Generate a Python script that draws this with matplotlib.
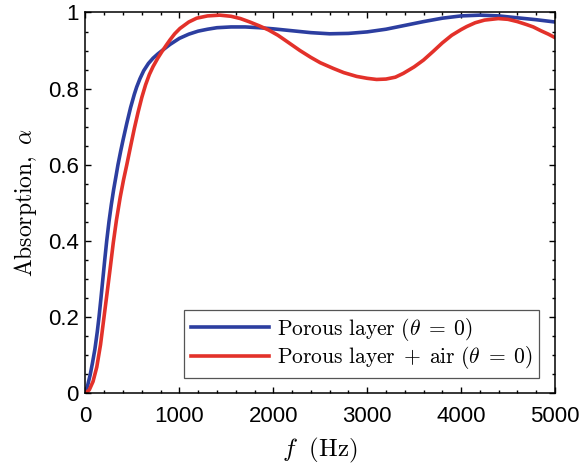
import matplotlib
matplotlib.use('Agg')
import matplotlib.pyplot as plt
from matplotlib.ticker import MultipleLocator

plt.rcParams['mathtext.fontset'] = 'cm'
plt.rcParams['font.family'] = ['Liberation Sans', 'DejaVu Sans']

# absorption coefficient vs frequency, porous layer alone
f_layer = [0, 25, 50, 75, 100, 125, 144, 165, 185, 205, 226, 250, 275, 300,
           325, 346, 375, 400, 440, 480, 520, 545, 580, 620, 670, 720, 770,
           811, 900, 1000, 1100, 1200, 1300, 1400, 1550, 1700, 1850, 2000,
           2200, 2400, 2600, 2800, 3000, 3200, 3400, 3600, 3800, 4000, 4200,
           4400, 4600, 4800, 5000]
a_layer = [0, 0.022, 0.048, 0.08, 0.115, 0.16, 0.20, 0.25, 0.30, 0.35, 0.40,
           0.45, 0.495, 0.535, 0.57, 0.60, 0.636, 0.665, 0.709, 0.75, 0.785,
           0.804, 0.826, 0.847, 0.866, 0.88, 0.891, 0.899, 0.916, 0.932,
           0.943, 0.951, 0.956, 0.96, 0.962, 0.962, 0.96, 0.957, 0.952,
           0.947, 0.944, 0.945, 0.949, 0.956, 0.966, 0.976, 0.985, 0.991,
           0.993, 0.991, 0.986, 0.981, 0.975]

# porous layer backed by an air gap
f_air = [0, 40, 80, 120, 160, 200, 230, 260, 296, 330, 370, 405, 440, 480,
         520, 560, 600, 640, 680, 720, 770, 811, 860, 900, 950, 1006, 1100,
         1184, 1300, 1430, 1550, 1650, 1750, 1850, 1950, 2050, 2150, 2284,
         2400, 2500, 2639, 2750, 2888, 3000, 3100, 3200, 3300, 3385, 3500,
         3600, 3704, 3800, 3900, 4000, 4060, 4150, 4250, 4396, 4500, 4600,
         4700, 4769, 4850, 4930, 5000]
a_air = [0, 0.008, 0.03, 0.068, 0.127, 0.205, 0.263, 0.322, 0.395, 0.455,
         0.515, 0.56, 0.60, 0.648, 0.695, 0.738, 0.777, 0.81, 0.837, 0.858,
         0.88, 0.896, 0.914, 0.928, 0.944, 0.958, 0.975, 0.985, 0.991, 0.993,
         0.99, 0.984, 0.975, 0.965, 0.954, 0.94, 0.923, 0.90, 0.882, 0.868,
         0.853, 0.842, 0.832, 0.827, 0.824, 0.825, 0.83, 0.84, 0.857, 0.875,
         0.898, 0.92, 0.94, 0.955, 0.963, 0.973, 0.98, 0.984, 0.982, 0.976,
         0.968, 0.962, 0.952, 0.943, 0.934]

fig = plt.figure(figsize=(5.84, 4.71), dpi=100)
ax = fig.add_axes([0.1464, 0.1656, 0.8039, 0.8079])

ax.plot(f_layer, a_layer, color='#2c3ea0', lw=2.6, solid_joinstyle='round',
        label=r'$\mathrm{Porous\ layer}\ (\theta\;=\;0)$')
ax.plot(f_air, a_air, color='#e3312a', lw=2.6, solid_joinstyle='round',
        label=r'$\mathrm{Porous\ layer}\;+\;\mathrm{air}\ (\theta\;=\;0)$')

ax.set_xlim(0, 5000)
ax.set_ylim(0, 1)
ax.xaxis.set_major_locator(MultipleLocator(1000))
ax.xaxis.set_minor_locator(MultipleLocator(200))
ax.yaxis.set_minor_locator(MultipleLocator(0.05))
ax.set_yticks([0, 0.2, 0.4, 0.6, 0.8, 1])
ax.set_yticklabels(['0', '0.2', '0.4', '0.6', '0.8', '1'])

ax.tick_params(which='both', direction='in', top=True, right=True,
               labelsize=16, width=1)
ax.tick_params(axis='x', pad=9)
ax.tick_params(axis='y', pad=5)
ax.tick_params(which='major', length=4.2)
ax.tick_params(which='minor', length=2.4)
for s in ax.spines.values():
    s.set_linewidth(1.1)

ax.set_xlabel(r'$f\ \ (\mathrm{Hz})$', fontsize=18, labelpad=7)
ax.set_ylabel(r'$\mathrm{Absorption},\ \alpha$', fontsize=17, labelpad=6)

leg = ax.legend(loc='lower right', fontsize=15.5, fancybox=False,
                edgecolor='#555555', framealpha=1, handlelength=3.65,
                borderaxespad=0.72, handletextpad=0.37, labelspacing=0.05,
                borderpad=0.3)
leg.get_frame().set_linewidth(0.9)

fig.savefig('out.png', dpi=100)
